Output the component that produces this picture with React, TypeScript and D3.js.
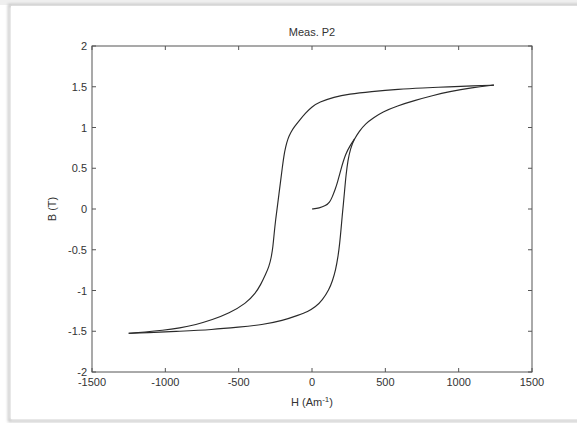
import React from "react";
import * as d3 from "d3";

const W = 577;
const H = 423;

// Descending (upper) branch: from positive tip to negative tip
const descH = [1240, 1100, 934, 750, 593, 400, 252, 150, 48, 0, -43, -89, -120, -145, -165, -180, -192, -203, -215, -236, -248, -258, -266, -278, -294, -316, -350, -384, -450, -566, -680, -793, -900, -1020, -1140, -1250];
const descB = [1.52, 1.51, 1.5, 1.485, 1.47, 1.44, 1.41, 1.375, 1.31, 1.255, 1.18, 1.08, 1.01, 0.94, 0.86, 0.76, 0.65, 0.5, 0.33, 0.03, -0.13, -0.3, -0.46, -0.6, -0.71, -0.8, -0.93, -1.03, -1.16, -1.28, -1.36, -1.42, -1.46, -1.49, -1.51, -1.525];

// Ascending (lower) branch: from negative tip to positive tip
const ascH = [-1250, -1134, -900, -680, -500, -339, -200, -89, -30, 25, 70, 116, 140, 161, 178, 189, 198, 206, 214, 222, 232, 245, 262, 286, 320, 366, 420, 479, 580, 707, 820, 934, 1090, 1240];
const ascB = [-1.525, -1.52, -1.5, -1.48, -1.45, -1.42, -1.37, -1.3, -1.26, -1.2, -1.12, -0.99, -0.88, -0.75, -0.58, -0.42, -0.25, -0.08, 0.06, 0.22, 0.42, 0.6, 0.74, 0.85, 0.95, 1.05, 1.12, 1.19, 1.265, 1.335, 1.39, 1.44, 1.49, 1.52];

// Initial magnetization curve
const initH = [0, 50, 93, 120, 139, 160, 173, 196, 229, 264, 290];
const initB = [0, 0.01, 0.04, 0.08, 0.15, 0.25, 0.32, 0.48, 0.68, 0.79, 0.86];

const xTicks = [-1500, -1000, -500, 0, 500, 1000, 1500];
const yTicks = [-2, -1.5, -1, -0.5, 0, 0.5, 1, 1.5, 2];

const title = "Meas. P2";

export default function App() {
  const left = 92, right = 532, top = 46, bottom = 372;
  const x = d3.scaleLinear().domain([-1500, 1500]).range([left, right]);
  const y = d3.scaleLinear().domain([-2, 2]).range([bottom, top]);
  const line = d3
    .line<[number, number]>()
    .x((d) => x(d[0]))
    .y((d) => y(d[1]))
    .curve(d3.curveBasis);
  const zip = (a: number[], b: number[]) => a.map((v, i) => [v, b[i]] as [number, number]);
  const font = "'Liberation Sans', Arial, sans-serif";
  const axisColor = "#555";
  const textColor = "#333";
  const tl = 4;
  return (
    <svg width={W} height={H} style={{ position: "absolute", left: 0, top: 0 }} fontFamily={font}>
      <defs>
        <filter id="sh" x="-5%" y="-5%" width="110%" height="110%">
          <feGaussianBlur stdDeviation="1.5" />
        </filter>
      </defs>
      <rect x={0} y={0} width={W} height={H} fill="#fff" />
      <rect x={0} y={0} width={W} height={5} fill="#efefef" />
      <rect x={9} y={5} width={W} height={416} fill="none" stroke="#bbb" strokeWidth={2} filter="url(#sh)" />
      <rect x={11} y={6} width={W} height={413} fill="#fff" />
      <rect x={left} y={top} width={right - left} height={bottom - top} fill="none" stroke={axisColor} strokeWidth={1} />
      {xTicks.map((t) => (
        <g key={"x" + t}>
          <line x1={x(t)} x2={x(t)} y1={bottom} y2={bottom - tl} stroke={axisColor} />
          <line x1={x(t)} x2={x(t)} y1={top} y2={top + tl} stroke={axisColor} />
          <text x={x(t)} y={386} fontSize={11} textAnchor="middle" fill={textColor}>
            {t}
          </text>
        </g>
      ))}
      {yTicks.map((t) => (
        <g key={"y" + t}>
          <line x1={left} x2={left + tl} y1={y(t)} y2={y(t)} stroke={axisColor} />
          <line x1={right} x2={right - tl} y1={y(t)} y2={y(t)} stroke={axisColor} />
          <text x={87} y={y(t) + 4} fontSize={11} textAnchor="end" fill={textColor}>
            {t}
          </text>
        </g>
      ))}
      <path d={line(zip(descH, descB)) || ""} fill="none" stroke="#2a2a2a" strokeWidth={1.15} />
      <path d={line(zip(ascH, ascB)) || ""} fill="none" stroke="#2a2a2a" strokeWidth={1.15} />
      <path d={line(zip(initH, initB)) || ""} fill="none" stroke="#2a2a2a" strokeWidth={1.15} />
      <text x={(left + right) / 2} y={36} fontSize={11} textAnchor="middle" fill={textColor}>
        {title}
      </text>
      <text x={(left + right) / 2} y={406} fontSize={11} textAnchor="middle" fill={textColor}>
        H (Am<tspan dy={-4} fontSize={8}>-1</tspan>
        <tspan dy={4}>)</tspan>
      </text>
      <text transform={`translate(56,${(top + bottom) / 2}) rotate(-90)`} fontSize={11} textAnchor="middle" fill={textColor}>
        B (T)
      </text>
    </svg>
  );
}
